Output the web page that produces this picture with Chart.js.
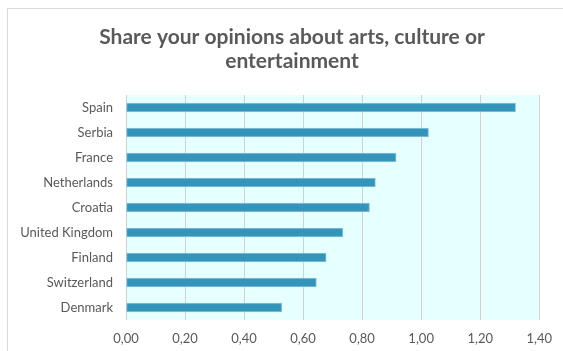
<!DOCTYPE html>
<html lang="en">
<head>
  <meta charset="UTF-8">
  <title>Share your opinions about arts, culture or entertainment</title>
  <script src="https://cdn.jsdelivr.net/npm/chart.js"></script>
  <style>
    body {
      margin: 0;
      background: #ffffff;
      overflow: hidden;
    }
    .frame {
      position: absolute;
      left: 7px;
      top: 8px;
      width: 600px;
      height: 400px;
      border: 1px solid #d9d9d9;
    }
    #grafico {
      position: absolute;
      left: 0;
      top: 0;
    }
  </style>
</head>
<body>
  <div class="frame"></div>
  <canvas id="grafico" width="563" height="351"></canvas>

  <script>
const paises = ['Spain', 'Serbia', 'France', 'Netherlands', 'Croatia', 'United Kingdom', 'Finland', 'Switzerland', 'Denmark'];
const valores = [1.32, 1.025, 0.915, 0.845, 0.825, 0.735, 0.678, 0.645, 0.528];
const tituloLinhas = ['Share your opinions about arts, culture or', 'entertainment'];

// fundo azul claro só na área do gráfico
const fundoArea = {
  id: 'fundoArea',
  beforeDraw(chart) {
    const { ctx, chartArea: a } = chart;
    ctx.save();
    ctx.fillStyle = '#e6ffff';
    ctx.fillRect(a.left, a.top, a.right - a.left, a.bottom - a.top);
    ctx.restore();
  }
};

// título centrado no quadro do Excel (que passa da borda direita)
const tituloExcel = {
  id: 'tituloExcel',
  afterDraw(chart) {
    const ctx = chart.ctx;
    ctx.save();
    ctx.fillStyle = '#595959';
    ctx.font = 'bold 21px Lato';
    ctx.textAlign = 'center';
    ctx.textBaseline = 'middle';
    tituloLinhas.forEach((linha, i) => ctx.fillText(linha, 292, 37 + i * 24));
    ctx.restore();
  }
};

new Chart(document.getElementById('grafico').getContext('2d'), {
  type: 'bar',
  data: {
    labels: paises,
    datasets: [{
      data: valores,
      backgroundColor: '#3494ba',
      borderColor: '#8cc5dc',
      borderWidth: 1,
      borderSkipped: false,
      barThickness: 9
    }]
  },
  options: {
    indexAxis: 'y',
    responsive: false,
    animation: false,
    layout: { padding: { left: 0, right: 20, top: 95, bottom: 0 } },
    plugins: {
      legend: { display: false },
      tooltip: { enabled: false },
      title: { display: false }
    },
    scales: {
      x: {
        min: 0,
        max: 1.4,
        ticks: {
          stepSize: 0.2,
          color: '#595959',
          font: { family: 'Lato', size: 13 },
          padding: 11,
          callback: v => v.toFixed(2).replace('.', ',')
        },
        grid: { color: '#d0d0d0', drawTicks: false },
        border: { display: false },
        afterFit: s => { s.height = 31; }
      },
      y: {
        ticks: {
          color: '#595959',
          font: { family: 'Lato', size: 13 },
          padding: 13
        },
        grid: { display: false, drawTicks: false },
        border: { display: false },
        afterFit: s => { s.width = 126; }
      }
    }
  },
  plugins: [fundoArea, tituloExcel]
});
  </script>
</body>
</html>
